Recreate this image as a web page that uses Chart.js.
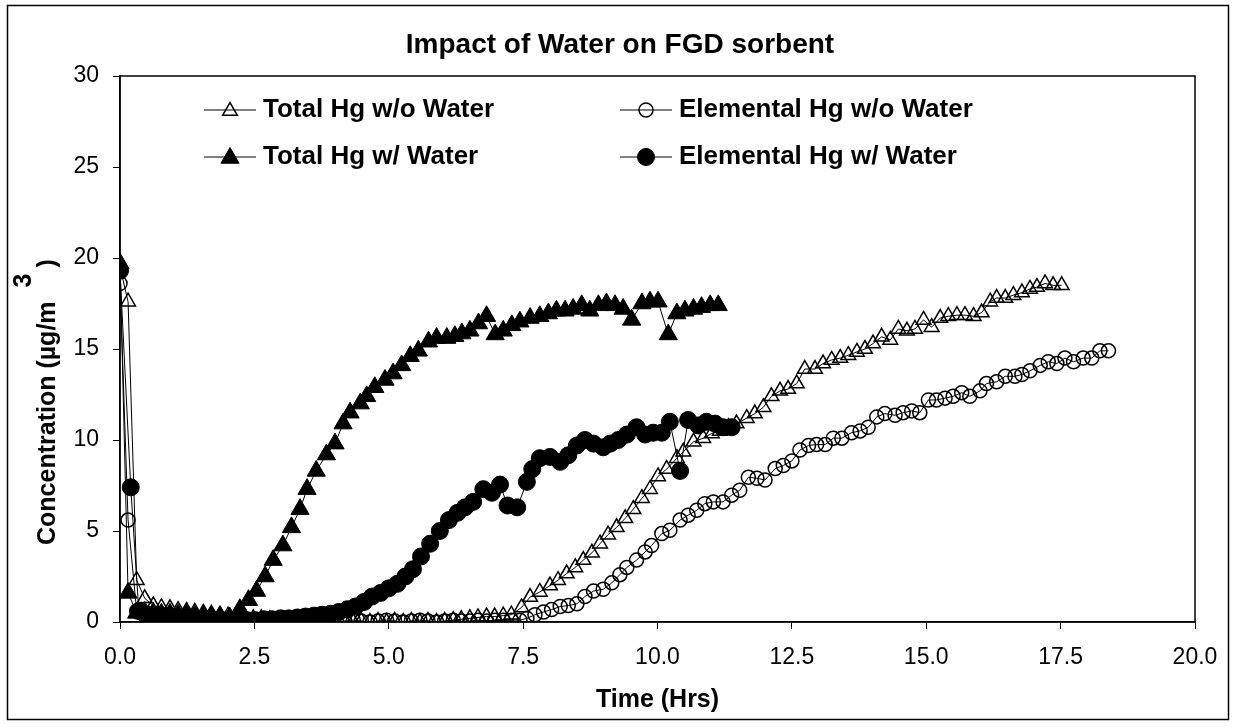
<!DOCTYPE html>
<html>
<head>
<meta charset="utf-8">
<title>Impact of Water on FGD sorbent</title>
<script src="https://cdn.jsdelivr.net/npm/chart.js@4.4.1/dist/chart.umd.min.js"></script>
<style>
  html, body { margin: 0; padding: 0; background: #fff; }
  #wrap { width: 1236px; height: 727px; }
</style>
</head>
<body>
<div id="wrap"><canvas id="chart" width="1236" height="727"></canvas></div>
<script>
const FONT = '"Liberation Sans", Arial, sans-serif';

const chartTitle = 'Impact of Water on FGD sorbent';
const xAxisTitle = 'Time (Hrs)';
const yAxisTitle = 'Concentration (µg/m';
const yAxisSup = '3';

const xTickValues = [0, 2.5, 5, 7.5, 10, 12.5, 15, 17.5, 20];
const yTickValues = [0, 5, 10, 15, 20, 25, 30];

// Total Hg w/o Water (open triangles)
const totalDryHours = [
  0.00, 0.15, 0.31, 0.46, 0.62, 0.77, 0.93, 1.08, 1.24, 1.39, 1.55, 1.70, 1.86, 2.01, 2.17, 2.32,
  2.48, 2.63, 2.79, 2.94, 3.10, 3.25, 3.41, 3.56, 3.72, 3.87, 4.03, 4.18, 4.34, 4.49, 4.65, 4.80,
  4.96, 5.11, 5.27, 5.42, 5.58, 5.73, 5.89, 6.04, 6.20, 6.35, 6.51, 6.66, 6.82, 6.97, 7.13, 7.28,
  7.47, 7.63, 7.81, 8.00, 8.15, 8.31, 8.47, 8.62, 8.78, 8.93, 9.08, 9.24, 9.40, 9.55, 9.71, 9.86,
  10.01, 10.17, 10.36, 10.48, 10.67, 10.85, 11.01, 11.16, 11.32, 11.47, 11.66, 11.81, 11.97, 12.12,
  12.28, 12.43, 12.59, 12.74, 12.93, 13.08, 13.24, 13.40, 13.55, 13.71, 13.86, 14.01, 14.17, 14.33,
  14.48, 14.64, 14.79, 14.95, 15.10, 15.26, 15.41, 15.57, 15.72, 15.88, 16.03, 16.19, 16.31, 16.47,
  16.62, 16.78, 16.93, 17.06, 17.21, 17.36, 17.52
];
const totalDryConc = [
  19.5, 17.6, 2.3, 1.3, 0.9, 0.8, 0.75, 0.65, 0.6, 0.55, 0.5, 0.45, 0.4, 0.35, 0.3, 0.25,
  0.2, 0.2, 0.15, 0.15, 0.1, 0.1, 0.1, 0.05, 0.05, 0.05, 0.0, 0.05, 0.0, 0.05, 0.0, 0.05,
  0.0, 0.05, 0.0, 0.05, 0.0, 0.05, 0.0, 0.05, 0.1, 0.15, 0.2, 0.25, 0.3, 0.3, 0.35, 0.4,
  0.8, 1.37, 1.65, 2.0, 2.3, 2.66, 3.0, 3.4, 3.8, 4.3, 4.8, 5.2, 5.7, 6.2, 6.8, 7.3,
  8.0, 8.4, 9.0, 9.35, 9.9, 10.1, 10.36, 10.5, 10.7, 10.9, 11.2, 11.45, 11.8, 12.4,
  12.7, 12.8, 13.1, 13.9, 13.9, 14.2, 14.4, 14.5, 14.66, 14.84, 15.0, 15.3, 15.67, 15.5,
  16.1, 16.0, 16.1, 16.6, 16.2, 16.7, 16.8, 16.86, 16.86, 16.8, 17.0, 17.6, 17.8, 17.8,
  17.96, 18.1, 18.3, 18.4, 18.6, 18.5, 18.5
];

// Elemental Hg w/o Water (open circles)
const elementalDryHours = [
  0.00, 0.15, 0.31, 0.46, 0.62, 0.77, 0.93, 1.08, 1.24, 1.39, 1.55, 1.70, 1.86, 2.01, 2.17, 2.32,
  2.48, 2.63, 2.79, 2.94, 3.10, 3.25, 3.41, 3.56, 3.72, 3.87, 4.03, 4.18, 4.34, 4.49, 4.65, 4.80,
  4.96, 5.11, 5.27, 5.42, 5.58, 5.73, 5.89, 6.04, 6.20, 6.35, 6.51, 6.66, 6.82, 6.97, 7.13, 7.28,
  7.44, 7.57, 7.72, 7.88, 8.03, 8.19, 8.34, 8.50, 8.65, 8.81, 8.99, 9.15, 9.30, 9.43, 9.61, 9.77,
  9.89, 10.08, 10.23, 10.42, 10.57, 10.73, 10.88, 11.04, 11.22, 11.38, 11.53, 11.69, 11.85, 12.00,
  12.19, 12.34, 12.50, 12.65, 12.81, 12.96, 13.12, 13.27, 13.43, 13.61, 13.77, 13.92, 14.08, 14.23,
  14.42, 14.57, 14.73, 14.88, 15.04, 15.19, 15.35, 15.50, 15.66, 15.81, 16.00, 16.12, 16.31, 16.47,
  16.65, 16.78, 16.93, 17.12, 17.27, 17.43, 17.58, 17.74, 17.92, 18.08, 18.23, 18.39
];
const elementalDryConc = [
  18.6, 5.6, 0.6, 0.35, 0.3, 0.25, 0.2, 0.2, 0.15, 0.15, 0.1, 0.1, 0.1, 0.05, 0.05, 0.05,
  0.05, 0.05, 0.0, 0.05, 0.0, 0.05, 0.0, 0.05, 0.0, 0.05, 0.0, 0.05, 0.1, 0.05, 0.0, 0.05,
  0.1, 0.05, 0.0, 0.05, 0.1, 0.05, 0.0, 0.05, 0.1, 0.05, 0.05, 0.1, 0.05, 0.1, 0.1, 0.1,
  0.1, 0.2, 0.4, 0.55, 0.68, 0.85, 0.9, 1.0, 1.4, 1.7, 1.8, 2.15, 2.6, 3.0, 3.4, 3.85,
  4.2, 4.86, 5.04, 5.6, 5.87, 6.14, 6.5, 6.6, 6.6, 6.97, 7.24, 7.95, 7.9, 7.8,
  8.43, 8.6, 8.85, 9.45, 9.7, 9.75, 9.75, 10.1, 10.1, 10.4, 10.5, 10.7, 11.27, 11.45,
  11.36, 11.5, 11.6, 11.5, 12.2, 12.2, 12.3, 12.4, 12.6, 12.4, 12.7, 13.1, 13.2, 13.5,
  13.5, 13.6, 13.8, 14.1, 14.3, 14.2, 14.5, 14.3, 14.5, 14.5, 14.9, 14.9
];

// Total Hg w/ Water (filled triangles)
const totalWetHours = [
  0.00, 0.15, 0.31, 0.46, 0.62, 0.77, 0.93, 1.08, 1.24, 1.39, 1.55, 1.70, 1.86, 2.04, 2.23, 2.39,
  2.54, 2.70, 2.85, 3.03, 3.19, 3.35, 3.48, 3.65, 3.84, 4.00, 4.15, 4.28, 4.47, 4.59, 4.74, 4.93,
  5.08, 5.24, 5.40, 5.55, 5.74, 5.89, 6.08, 6.23, 6.36, 6.51, 6.67, 6.82, 6.98, 7.13, 7.29, 7.44,
  7.63, 7.81, 7.97, 8.12, 8.28, 8.43, 8.59, 8.74, 8.90, 9.05, 9.21, 9.36, 9.52, 9.71, 9.86, 10.01,
  10.20, 10.36, 10.51, 10.67, 10.82, 10.98, 11.13
];
const totalWetConc = [
  19.7, 1.6, 0.5, 0.55, 0.5, 0.45, 0.45, 0.4, 0.4, 0.35, 0.35, 0.3, 0.3, 0.25, 0.7, 1.2,
  1.7, 2.5, 3.4, 4.2, 5.2, 6.2, 7.3, 8.3, 9.2, 9.8, 10.9, 11.5, 12.0, 12.4, 12.9, 13.3,
  13.65, 14.1, 14.6, 14.9, 15.4, 15.6, 15.6, 15.7, 15.85, 16.0, 16.4, 16.8, 15.8, 16.0, 16.3, 16.5,
  16.7, 16.8, 16.95, 17.1, 17.1, 17.2, 17.4, 17.1, 17.4, 17.5, 17.4, 17.2, 16.6, 17.5, 17.6, 17.6,
  15.8, 16.95, 17.1, 17.2, 17.3, 17.4, 17.4
];

// Elemental Hg w/ Water (filled circles)
const elementalWetHours = [
  0.00, 0.20, 0.35, 0.51, 0.66, 0.82, 0.97, 1.13, 1.28, 1.44, 1.59, 1.75, 1.90, 2.06, 2.21, 2.37,
  2.52, 2.68, 2.83, 2.99, 3.14, 3.30, 3.45, 3.61, 3.76, 3.92, 4.07, 4.23, 4.38, 4.54, 4.69, 4.85,
  5.00, 5.16, 5.31, 5.45, 5.60, 5.77, 5.95, 6.12, 6.28, 6.42, 6.57, 6.76, 6.92, 7.07, 7.21, 7.39,
  7.57, 7.67, 7.81, 8.00, 8.19, 8.34, 8.50, 8.65, 8.81, 8.99, 9.12, 9.27, 9.43, 9.61, 9.77, 9.92,
  10.08, 10.23, 10.42, 10.57, 10.76, 10.91, 11.07, 11.22, 11.38
];
const elementalWetConc = [
  19.3, 7.4, 0.6, 0.4, 0.35, 0.3, 0.25, 0.2, 0.2, 0.15, 0.15, 0.1, 0.1, 0.05, 0.05, 0.1,
  0.1, 0.15, 0.15, 0.2, 0.2, 0.25, 0.3, 0.35, 0.4, 0.45, 0.55, 0.7, 0.85, 1.1, 1.4, 1.6,
  1.85, 2.1, 2.5, 2.9, 3.6, 4.3, 5.0, 5.6, 6.0, 6.3, 6.6, 7.3, 7.1, 7.55, 6.4, 6.3,
  7.7, 8.4, 9.0, 9.07, 8.8, 9.16, 9.7, 10.0, 9.8, 9.6, 9.8, 10.0, 10.3, 10.7, 10.3, 10.4,
  10.4, 11.0, 8.3, 11.1, 10.8, 11.0, 10.9, 10.7, 10.7
];

const toPoints = (xs, ys) => xs.map((x, i) => ({ x: x, y: ys[i] }));

const datasets = [
  {
    label: 'Total Hg w/o Water',
    data: toPoints(totalDryHours, totalDryConc),
    pointStyle: 'triangle', pointRadius: 8.5,
    pointBackgroundColor: 'rgba(0,0,0,0)', pointBorderColor: '#000', pointBorderWidth: 1.5
  },
  {
    label: 'Elemental Hg w/o Water',
    data: toPoints(elementalDryHours, elementalDryConc),
    pointStyle: 'circle', pointRadius: 7,
    pointBackgroundColor: 'rgba(0,0,0,0)', pointBorderColor: '#000', pointBorderWidth: 1.5
  },
  {
    label: 'Total Hg w/ Water',
    data: toPoints(totalWetHours, totalWetConc),
    pointStyle: 'triangle', pointRadius: 10.5,
    pointBackgroundColor: '#000', pointBorderColor: '#000', pointBorderWidth: 1
  },
  {
    label: 'Elemental Hg w/ Water',
    data: toPoints(elementalWetHours, elementalWetConc),
    pointStyle: 'circle', pointRadius: 8.5,
    pointBackgroundColor: '#000', pointBorderColor: '#000', pointBorderWidth: 1
  }
];
datasets.forEach(ds => {
  ds.showLine = true;
  ds.borderColor = '#000';
  ds.borderWidth = 1;
  ds.tension = 0;
  ds.fill = false;
});

// legend slots: [dataset index, left x, row y]
const legendSlots = [[0, 204, 110], [1, 620, 110], [2, 204, 157], [3, 620, 157]];

const decorPlugin = {
  id: 'decor',
  beforeDraw(chart) {
    const ctx = chart.ctx;
    ctx.save();
    ctx.fillStyle = '#fff';
    ctx.fillRect(0, 0, chart.width, chart.height);
    ctx.restore();
  },
  afterDraw(chart) {
    const ctx = chart.ctx;
    const area = chart.chartArea;
    ctx.save();

    // outer frame and plot box
    ctx.strokeStyle = '#000';
    ctx.lineWidth = 1.5;
    ctx.strokeRect(7.5, 5.5, 1221, 714);
    ctx.strokeRect(area.left, area.top, area.right - area.left, area.bottom - area.top);

    // title
    ctx.fillStyle = '#000';
    ctx.font = 'bold 28px ' + FONT;
    ctx.textAlign = 'center';
    ctx.textBaseline = 'middle';
    ctx.fillText(chartTitle, 620, 45);

    // y axis title with raised 3
    ctx.save();
    ctx.translate(48, 545);
    ctx.rotate(-Math.PI / 2);
    ctx.font = 'bold 25px ' + FONT;
    ctx.textAlign = 'left';
    ctx.fillText(yAxisTitle, 0, 0);
    const w = ctx.measureText(yAxisTitle).width;
    ctx.fillText(yAxisSup, w + 14, -24);
    ctx.fillText(')', w + 34, 0);
    ctx.restore();

    // legend
    ctx.font = 'bold 26px ' + FONT;
    ctx.textAlign = 'left';
    ctx.textBaseline = 'middle';
    legendSlots.forEach(([di, lx, ly]) => {
      const ds = chart.data.datasets[di];
      ctx.strokeStyle = '#000';
      ctx.lineWidth = 1;
      ctx.beginPath();
      ctx.moveTo(lx, ly);
      ctx.lineTo(lx + 52, ly);
      ctx.stroke();
      ctx.fillStyle = ds.pointBackgroundColor;
      ctx.strokeStyle = ds.pointBorderColor;
      ctx.lineWidth = ds.pointBorderWidth;
      Chart.helpers.drawPoint(ctx, {
        pointStyle: ds.pointStyle, radius: ds.pointRadius, rotation: 0, borderWidth: ds.pointBorderWidth
      }, lx + 26, ly + (ds.pointStyle === 'triangle' ? 1 : 0));
      ctx.fillStyle = '#000';
      ctx.fillText(ds.label, lx + 59, ly);
    });
    ctx.restore();
  }
};

new Chart(document.getElementById('chart'), {
  type: 'scatter',
  data: { datasets: datasets },
  options: {
    responsive: false,
    animation: false,
    devicePixelRatio: 1,
    events: [],
    layout: { padding: { left: 0, top: 76, right: 41, bottom: 0 } },
    plugins: {
      legend: { display: false },
      title: { display: false },
      tooltip: { enabled: false }
    },
    scales: {
      x: {
        type: 'linear',
        min: 0,
        max: 20,
        afterBuildTicks: scale => { scale.ticks = xTickValues.map(v => ({ value: v })); },
        afterFit: scale => { scale.height = 105; scale.paddingLeft = 0; scale.paddingRight = 0; },
        ticks: {
          color: '#000',
          font: { family: FONT, size: 23 },
          padding: 15,
          maxRotation: 0,
          autoSkip: false,
          callback: v => v.toFixed(1)
        },
        grid: { drawOnChartArea: false, drawTicks: true, tickLength: 7, color: '#000', lineWidth: 1 },
        border: { display: true, color: '#000', width: 1.5 },
        title: {
          display: true,
          text: xAxisTitle,
          color: '#000',
          font: { family: FONT, size: 25, weight: 'bold' },
          padding: { top: 0, bottom: 12 }
        }
      },
      y: {
        type: 'linear',
        min: 0,
        max: 30,
        afterBuildTicks: scale => { scale.ticks = yTickValues.map(v => ({ value: v })); },
        afterFit: scale => { scale.width = 120; scale.paddingTop = 0; scale.paddingBottom = 0; },
        ticks: {
          color: '#000',
          font: { family: FONT, size: 23 },
          padding: 14,
          autoSkip: false
        },
        grid: { drawOnChartArea: false, drawTicks: true, tickLength: 7, color: '#000', lineWidth: 1 },
        border: { display: true, color: '#000', width: 1.5 }
      }
    }
  },
  plugins: [decorPlugin]
});
</script>
</body>
</html>
